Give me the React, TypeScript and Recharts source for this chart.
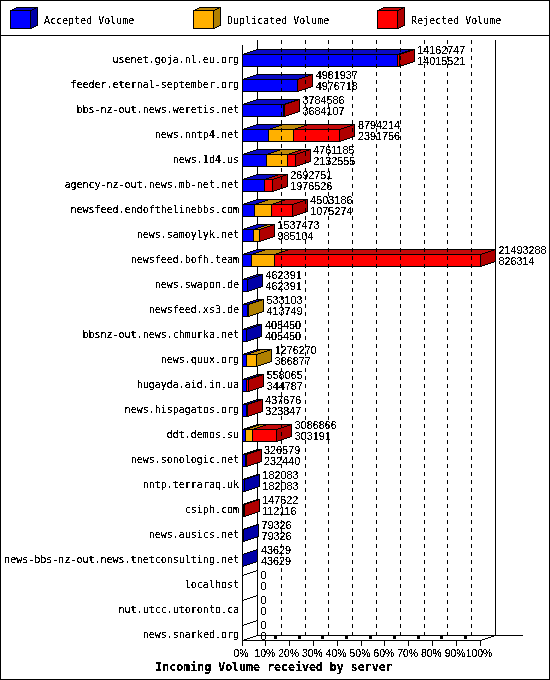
import React from "react";
import { BarChart, Bar, XAxis, YAxis, Legend, LabelList } from "recharts";

const servers = [
  "usenet.goja.nl.eu.org", "feeder.eternal-september.org", "bbs-nz-out.news.weretis.net",
  "news.nntp4.net", "news.1d4.us", "agency-nz-out.news.mb-net.net",
  "newsfeed.endofthelinebbs.com", "news.samoylyk.net", "newsfeed.bofh.team",
  "news.swapon.de", "newsfeed.xs3.de", "bbsnz-out.news.chmurka.net",
  "news.quux.org", "hugayda.aid.in.ua", "news.hispagatos.org", "ddt.demos.su",
  "news.sonologic.net", "nntp.terraraq.uk", "csiph.com", "news.ausics.net",
  "news-bbs-nz-out.news.tnetconsulting.net", "localhost", "nut.utcc.utoronto.ca",
  "news.snarked.org",
];
const accepted = [
  14015521, 4976718, 3684107, 2391756, 2132555, 1976526, 1075274, 985104, 826314,
  462391, 413749, 405450, 386877, 344787, 323847, 303191, 232440, 182083, 112116,
  79326, 43629, 0, 0, 0,
];
const duplicated = [
  0, 0, 0, 2258000, 1920000, 30000, 1550000, 550000, 2077000,
  0, 119354, 0, 889393, 40000, 0, 596000, 0, 0, 0, 0, 0, 0, 0, 0,
];
const totals = [
  14162747, 4981937, 3784586, 8794214, 4761185, 2692751, 4503186, 1537473, 21493288,
  462391, 533103, 405450, 1276270, 558065, 437676, 3086866, 326579, 182083, 147622,
  79326, 43629, 0, 0, 0,
];
const percentTicks = [0, 10, 20, 30, 40, 50, 60, 70, 80, 90, 100];
const titleText = "Incoming Volume received by server";

const rows = servers.map((server, i) => ({
  server,
  accepted: accepted[i],
  duplicated: duplicated[i],
  rejected: totals[i] - accepted[i] - duplicated[i],
  total: totals[i],
}));
const maxTotal = Math.max(...totals);

const MONO = "'DejaVu Sans Mono', monospace";
const BOLD_MONO = "'DejaVu Sans Mono', monospace";
const DIGITS = "'Liberation Sans', sans-serif";
const DX = 15;
const DY = 5;
const LEFT = 242.5;
const RIGHT = 480.5;
const FLOOR = 640.5;

const snap = (v: number) => Math.floor(v) + 0.5;

const px = { filter: "url(#px)" };

function PixelFilter() {
  return (
    <filter id="px" x="-5%" y="-20%" width="110%" height="140%" colorInterpolationFilters="sRGB">
      <feComponentTransfer>
        <feFuncA type="discrete" tableValues="0 0 0 1 1 1 1 1" />
      </feComponentTransfer>
    </filter>
  );
}

function Box3D(props: any) {
  const { x, y, width, height, fill, topFill, sideFill } = props;
  if (!width || width <= 0) return null;
  const x0 = snap(x);
  const x1 = snap(x + width);
  const y0 = snap(y);
  const y1 = snap(y + height);
  const line = { stroke: "#000", strokeWidth: 1, shapeRendering: "crispEdges" as const };
  return (
    <g>
      <polygon points={`${x0},${y0} ${x0 + DX},${y0 - DY} ${x1 + DX},${y0 - DY} ${x1},${y0}`} fill={topFill} {...line} />
      <polygon points={`${x1},${y0} ${x1 + DX},${y0 - DY} ${x1 + DX},${y1 - DY} ${x1},${y1}`} fill={sideFill} {...line} />
      <rect x={x0} y={y0} width={x1 - x0} height={y1 - y0} fill={fill} {...line} />
    </g>
  );
}

function XTick(props: any) {
  const { x, index } = props;
  const fx = x;
  const pct = percentTicks[index];
  const crisp = { shapeRendering: "crispEdges" as const };
  return (
    <g>
      {pct > 0 && pct < 100 && (
        <line x1={snap(fx + DX)} y1={40} x2={snap(fx + DX)} y2={635} stroke="#000" strokeDasharray="4 4" {...crisp} />
      )}
      <line x1={snap(fx - 0.5)} y1={FLOOR} x2={snap(fx - 0.5)} y2={645.5} stroke="#000" {...crisp} />
      {pct > 0 && pct < 100 && (
        <line x1={fx + 7.5} y1={637.5} x2={fx + 10.5} y2={637.5} stroke="#000" strokeWidth={3} {...crisp} />
      )}
      <text x={fx - 1.5} y={656.5} textAnchor="middle" fontFamily={DIGITS} fontSize={10.4} fill="#000" style={px}>
        {`${pct}%`}
      </text>
    </g>
  );
}

function YTick(props: any) {
  const { y, payload, index } = props;
  const cy = y - 0.5;
  return (
    <g>
      {totals[index] === 0 && (
        <line x1={LEFT} y1={snap(cy - 9)} x2={LEFT + DX} y2={snap(cy - 14)} stroke="#000" shapeRendering="crispEdges" />
      )}
      <text x={239} y={cy + 3.5} textAnchor="end" fontFamily={MONO} fontSize={10} fill="#000" style={px}>
        {payload.value}
      </text>
    </g>
  );
}

function RowLabel(props: any) {
  const { x, y, width, height, index } = props;
  const tx = x + width + 18;
  const cy = y + height / 2 - 0.5;
  const t = { x: tx, textAnchor: "start" as const, fontFamily: DIGITS, fontSize: 10.8, fill: "#000", style: px };
  return (
    <g>
      <text {...t} y={cy - 5.5}>{totals[index]}</text>
      <text {...t} y={cy + 5.5}>{accepted[index]}</text>
    </g>
  );
}

const legendX = [10.5, 193.5, 377.5];
const legendSkin: Record<string, { top: string; side: string }> = {};

function LegendBoxes(props: any) {
  const items = props.payload || [];
  return (
    <svg width={550} height={36} style={{ display: "block" }}>
      <defs><PixelFilter /></defs>
      {items.map((it: any, i: number) => {
        const x0 = legendX[i];
        const x1 = x0 + 20;
        const y0 = 10.5;
        const y1 = 28.5;
        const dx = 7;
        const dy = 3;
        const skin = legendSkin[it.value];
        const line = { stroke: "#000", shapeRendering: "crispEdges" as const };
        return (
          <g key={it.value}>
            <polygon points={`${x0},${y0} ${x0 + dx},${y0 - dy} ${x1 + dx},${y0 - dy} ${x1},${y0}`} fill={skin.top} {...line} />
            <polygon points={`${x1},${y0} ${x1 + dx},${y0 - dy} ${x1 + dx},${y1 - dy} ${x1},${y1}`} fill={skin.side} {...line} />
            <rect x={x0} y={y0} width={x1 - x0} height={y1 - y0} fill={it.color} {...line} />
            <text x={x0 + 33.5} y={23.5} fontFamily={MONO} fontSize={10} fill="#000" style={px}>{it.value}</text>
          </g>
        );
      })}
    </svg>
  );
}

const seriesStyles = [
  { key: "accepted", name: "Accepted Volume", fill: "#0000ff", top: "#0a0ac4", side: "#0000a8" },
  { key: "duplicated", name: "Duplicated Volume", fill: "#ffb000", top: "#c08a0a", side: "#b08000" },
  { key: "rejected", name: "Rejected Volume", fill: "#ff0000", top: "#c40a0a", side: "#b00000" },
];
seriesStyles.forEach((s) => { legendSkin[s.name] = { top: s.top, side: s.side }; });

export default function App() {
  const crisp = { shapeRendering: "crispEdges" as const, stroke: "#000" };
  return (
    <div style={{ position: "absolute", left: 0, top: 0, width: 550, height: 680, background: "#fff", overflow: "hidden" }}>
      <BarChart
        width={550}
        height={680}
        data={rows}
        layout="vertical"
        barSize={12}
        margin={{ top: 47, right: 69.5, bottom: 0, left: 0 }}
      >
        <defs><PixelFilter /></defs>
        <rect x={0.5} y={0.5} width={549} height={679} fill="#fff" {...crisp} />
        <line x1={0} y1={35.5} x2={550} y2={35.5} {...crisp} />
        <line x1={LEFT} y1={45} x2={LEFT} y2={FLOOR} {...crisp} />
        <line x1={LEFT + DX} y1={40} x2={LEFT + DX} y2={FLOOR - DY} {...crisp} />
        <line x1={RIGHT + DX} y1={40} x2={RIGHT + DX} y2={FLOOR - DY} {...crisp} />
        <line x1={LEFT + DX} y1={FLOOR - DY} x2={523} y2={FLOOR - DY} {...crisp} />
        <line x1={LEFT} y1={FLOOR} x2={RIGHT} y2={FLOOR} {...crisp} />
        <line x1={LEFT} y1={FLOOR} x2={LEFT + DX} y2={FLOOR - DY} {...crisp} />
        <line x1={RIGHT} y1={FLOOR} x2={RIGHT + DX} y2={FLOOR - DY} {...crisp} />
        <text x={274} y={671} textAnchor="middle" fontFamily={BOLD_MONO} fontWeight="bold" fontSize={11.6} fill="#000" style={px}>
          {titleText}
        </text>
        <XAxis
          type="number"
          domain={[0, maxTotal]}
          ticks={percentTicks.map((p) => (p * maxTotal) / 100)}
          interval={0}
          height={33}
          axisLine={false}
          tickLine={false}
          tick={XTick}
        />
        <YAxis
          type="category"
          dataKey="server"
          width={242.5}
          interval={0}
          axisLine={false}
          tickLine={false}
          tick={YTick}
        />
        <Legend
          verticalAlign="middle"
          layout="horizontal"
          wrapperStyle={{ left: 0, top: 0, width: 550, height: 36 }}
          content={LegendBoxes}
        />
        {seriesStyles.map((s) => (
          <Bar
            key={s.key}
            dataKey={s.key}
            name={s.name}
            stackId="v"
            fill={s.fill}
            isAnimationActive={false}
            shape={(p: any) => <Box3D {...p} topFill={s.top} sideFill={s.side} />}
          >
            {s.key === "rejected" && <LabelList dataKey="total" content={RowLabel} />}
          </Bar>
        ))}
      </BarChart>
    </div>
  );
}
